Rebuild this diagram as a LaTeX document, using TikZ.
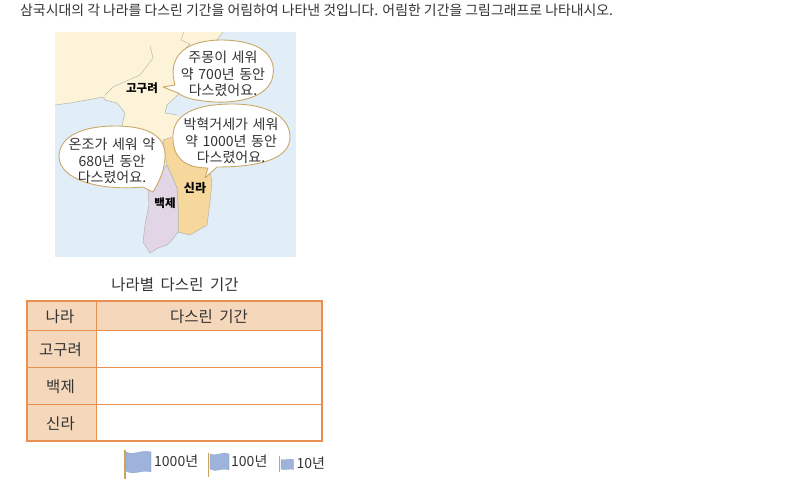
\documentclass[tikz,border=0pt]{standalone}
\usepackage{fontspec}
\setmainfont{Noto Sans CJK KR}[Scale=1]
\definecolor{sea}{HTML}{E1EEF8}
\definecolor{goguryeo}{HTML}{FCF3D8}
\definecolor{silla}{HTML}{F6D89C}
\definecolor{baekje}{HTML}{E2D6E6}
\definecolor{coast}{HTML}{B4B4AA}
\definecolor{bubbleline}{HTML}{C9A868}
\definecolor{tableline}{HTML}{E88F52}
\definecolor{tablefill}{HTML}{F5D8BC}
\definecolor{flagblue}{HTML}{9DB3DC}
\definecolor{pole}{HTML}{C9A45C}
\definecolor{txt}{HTML}{333333}
\newcommand{\widesp}{\spaceskip=0.42em\relax}
\newcommand{\bubblesp}{\spaceskip=0.33em\relax}
\tikzset{
  land/.style={draw=coast,line width=0.5pt,line join=round},
  bubble/.style={draw=bubbleline,fill=white,line width=0.9pt,line join=round},
  bubbletext/.style={align=center,font=\fontsize{14}{16.4}\selectfont\bubblesp,text=txt,inner sep=0pt},
  maplabel/.style={font=\fontsize{11.5}{13}\selectfont\bfseries,text=black,inner sep=0pt},
  cell/.style={font=\fontsize{15.5}{17}\selectfont\widesp,text=txt,inner sep=0pt},
  legendtext/.style={font=\fontsize{14}{15}\selectfont,text=txt,inner sep=0pt,anchor=west},
  flagpole/.style={draw=pole,line width=1.5pt},
  flag/.style={fill=flagblue,draw=flagblue!85!black,line width=0.2pt},
  grid/.style={draw=tableline,line width=0.8pt},
  frame/.style={draw=tableline,line width=1.4pt}
}
\begin{document}
\begin{tikzpicture}[x=1pt,y=-1pt]
\useasboundingbox (0,0) rectangle (805,485);
\fill[white] (0,0) rectangle (805,485);
\node[anchor=west,inner sep=0pt,font=\fontsize{13.9}{15}\selectfont,text=txt] (question) at (20,9.8) {삼국시대의 각 나라를 다스린 기간을 어림하여 나타낸 것입니다. 어림한 기간을 그림그래프로 나타내시오.};
% map
\fill[sea] (55,32) rectangle (296,257);
% north land
\path[fill=goguryeo] (55,32) -- (223,32) -- (217,40) -- (207,43) -- (190,60) -- (180,93) -- (167,105) -- (165,113) -- (177,115) -- (190,135) -- (163,140) -- (150,148) -- (147,141) -- (130,137) -- (122,125) -- (125,113) -- (117,103) -- (105,100) -- (103,97) -- (87,100) -- (70,103) -- (55,105) -- cycle;
\draw[coast,line width=0.5pt,line join=round] (55,105) -- (70,103) -- (87,100) -- (103,97) -- (105,100) -- (117,103) -- (125,113) -- (122,125) -- (130,137) -- (147,141) -- (150,148);
\draw[coast,line width=0.5pt,line join=round] (223,32) -- (217,40) -- (207,43) -- (190,60);
\draw[coast,line width=0.4pt,line join=round] (184,32) -- (181,40) -- (190,44) -- (182,52) (150,46) -- (153,58) -- (140,75) -- (113,87) -- (105,95) -- (105,100);
\draw[coast,line width=0.5pt,line join=round] (180,93) -- (167,105) -- (165,113) -- (177,115);
% Silla
\path[land,fill=silla] (163,140) -- (185,133) -- (210,172) -- (212,182) -- (210,202) -- (207,225) -- (190,235) -- (178,232) -- (178,205) -- (177,188) -- (167,165) -- cycle;
% Baekje
\path[land,fill=baekje] (167,165) -- (177,188) -- (178,205) -- (178,232) -- (172,240) -- (167,245) -- (158,248) -- (150,253) -- (143,242) -- (145,225) -- (149,205) -- (148,188) -- cycle;
\node[maplabel] (lblg) at (142,88) {고구려};
\node[maplabel] (lblb) at (165,203) {백제};
\node[maplabel,font=\fontsize{12}{14}\selectfont\bfseries] (lbls) at (195,188) {신라};
% bubbles
\path[bubble] (163,87) -- (175,85) .. controls (168,60) and (180,41) .. (220,40) .. controls (260,40) and (276,55) .. (273,75) .. controls (270,97) and (240,103) .. (215,102) .. controls (197,101) and (184,98) .. (178,93) -- cycle;
\path[bubble] (205,178) -- (208,168) .. controls (185,168) and (172,158) .. (173,135) .. controls (174,112) and (200,104) .. (232,104) .. controls (270,104) and (290,118) .. (290,137) .. controls (290,158) and (262,167) .. (217,167) -- cycle;
\path[bubble] (153,192) -- (143,187) .. controls (100,191) and (60,180) .. (59,157) .. controls (59,135) and (85,126) .. (115,126) .. controls (150,126) and (166,137) .. (165,157) .. controls (164,172) and (160,178) .. (158,183) -- cycle;
\node[bubbletext] (b1) at (223,74) {주몽이 세워\\약 700년 동안\\다스렸어요.};
\node[bubbletext] (b2) at (231,141) {박혁거세가 세워\\약 1000년 동안\\다스렸어요.};
\node[bubbletext] (b3) at (112,161) {온조가 세워 약\\680년 동안\\다스렸어요.};
% table
\node[cell] (tabletitle) at (175,285) {나라별 다스린 기간};
\fill[tablefill] (27,301) rectangle (322,330.5);
\fill[tablefill] (27,330.5) rectangle (96.5,441);
\draw[grid] (96.5,301) -- (96.5,441);
\draw[grid] (27,330.5) -- (322,330.5);
\draw[grid] (27,367.5) -- (322,367.5);
\draw[grid] (27,404.5) -- (322,404.5);
\draw[frame] (27,301) rectangle (322,441);
\node[cell] (h1) at (60,316.5) {나라};
\node[cell] (h2) at (209,316.5) {다스린 기간};
\node[cell] (r1) at (60.5,350) {고구려};
\node[cell] (r2) at (60.5,387) {백제};
\node[cell] (r3) at (60.5,423.5) {신라};
% legend
\path[flag] (126,452) .. controls (134,456) and (142,449) .. (151,452) -- (151,472) .. controls (142,469) and (134,476) .. (126,471) -- cycle;
\draw[flagpole] (125,450) -- (125,479);
\node[legendtext] (l1) at (154,461.5) {1000년};
\path[flag] (210,454) .. controls (216,457) and (222,451) .. (229,454) -- (229,470) .. controls (222,467) and (216,473) .. (210,469) -- cycle;
\draw[flagpole] (208.7,453) -- (208.7,477);
\node[legendtext] (l2) at (231,461.5) {100년};
\path[flag] (281,459.5) .. controls (285,461) and (289,458) .. (293.5,459.5) -- (293.5,469.5) .. controls (289,468) and (285,471) .. (281,469) -- cycle;
\draw[flagpole,line width=1.2pt] (279.7,456) -- (279.7,472);
\node[legendtext] (l3) at (296.5,463.5) {10년};
\end{tikzpicture}
\end{document}
